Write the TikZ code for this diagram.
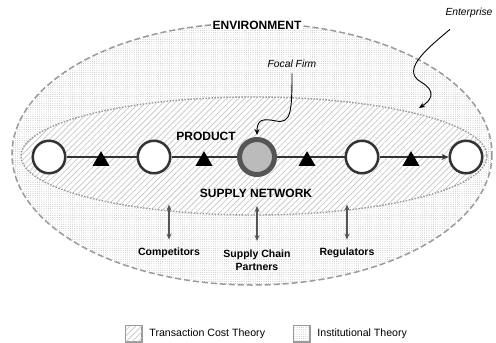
\documentclass[tikz,border=0pt]{standalone}
\usepackage{fontspec}
\setmainfont{Liberation Sans}
\usepackage{tikz}
\usetikzlibrary{arrows.meta, positioning, calc, patterns.meta, shapes.geometric}

\definecolor{ringgray}{HTML}{555555}
\definecolor{linegray}{HTML}{333333}
\definecolor{edgegray}{HTML}{9A9A9A}

\tikzset{
  stage/.style={circle, draw=linegray, line width=2.5pt, fill=white, minimum size=32.5pt, inner sep=0pt},
  focal/.style={circle, draw=ringgray, line width=5pt, fill=gray!53, minimum size=35pt, inner sep=0pt},
  tri/.style={regular polygon, regular polygon sides=3, fill=black, minimum size=19.6pt, inner sep=0pt},
  flow/.style={draw=linegray, line width=1.4pt},
  biarrow/.style={{Stealth[length=6pt,width=5pt]}-{Stealth[length=6pt,width=5pt]}, draw=ringgray, line width=1.2pt},
  pointer/.style={black, line width=0.9pt, -{Stealth[length=6pt,width=5pt]}},
  title/.style={font=\fontsize{12}{13}\selectfont\bfseries},
  actor/.style={font=\fontsize{10.5}{13}\selectfont\bfseries, align=center},
  note/.style={font=\fontsize{10.3}{12}\selectfont\itshape},
  keytext/.style={font=\fontsize{10.6}{12}\selectfont},
  dotsfill/.style={pattern={Dots[distance=2.2pt, radius=0.4pt]}, pattern color=gray!70},
  hatchfill/.style={pattern={Lines[angle=45, distance=4.2pt, line width=0.8pt]}, pattern color=gray!40},
}

\begin{document}
\begin{tikzpicture}[x=1pt, y=-1pt]
  \useasboundingbox (0,0) rectangle (496,343);

  % Environment
  \fill[white] (252,154) ellipse (240 and 131);
  \fill[dotsfill] (252,154) ellipse (240 and 131);
  \draw[edgegray, line width=1.5pt, dash pattern=on 6pt off 3pt] (252,154) ellipse (240 and 131);

  % Enterprise
  \fill[white] (254,156) ellipse (233 and 59);
  \fill[hatchfill] (254,156) ellipse (233 and 59);
  \draw[edgegray, line width=1.4pt, dash pattern=on 1.5pt off 1.5pt] (254,156) ellipse (233 and 59);

  \node[title, fill=white, inner sep=1pt] (env) at (257,25) {ENVIRONMENT};

  % Supply chain
  \node[stage] (s1) at (49,157) {};
  \node[stage] (s2) at (154,157) {};
  \node[focal] (ff) at (257,157) {};
  \node[stage] (s4) at (362,157) {};
  \node[stage] (s5) at (466,157) {};

  \draw[flow] (s1) -- (s2);
  \draw[flow] (s2) -- (ff);
  \draw[flow] (ff) -- (s4);
  \draw[flow, -{Stealth[length=7pt,width=6pt]}] (s4) -- (s5);

  \node[tri] (t1) at (101,161) {};
  \node[tri] (t2) at (204,161) {};
  \node[tri] (t3) at (307,161) {};
  \node[tri] (t4) at (411,161) {};

  \node[title] (prod) at (206,136) {PRODUCT};
  \node[title] (net) at (256,193) {SUPPLY NETWORK};

  % Notes
  \node[note] (fflabel) at (292,64) {Focal Firm};
  \node[note] (entlabel) at (469,13) {Enterprise};
  \coordinate (entpt) at (419,108);
  \draw[pointer] ([yshift=-2pt]fflabel.south) .. controls (292,112) and (291,124) .. (276,121)
    .. controls (262,118) and (257,120) .. ([yshift=2pt]ff.north);
  \draw[pointer] ([shift={(-19,8)}]entlabel.south) .. controls (428,48) and (400,70) .. (421,82)
    .. controls (438,92) and (430,101) .. (entpt);

  % Actors
  \node[actor] (comp) at (169,253) {Competitors};
  \node[actor, anchor=north] (scp) at (257,246) {Supply Chain\\Partners};
  \node[actor] (reg) at (347,253) {Regulators};
  \draw[biarrow] ([shift={(0,-5)}]comp.north) -- ++(0,-35);
  \draw[biarrow] ([shift={(0,-5)}]scp.north) -- ++(0,-35);
  \draw[biarrow] ([shift={(0,-5)}]reg.north) -- ++(0,-35);

  % Legend
  \node[draw=edgegray, line width=0.8pt, minimum size=16pt, inner sep=0pt, fill=white] (lb1) at (133.5,333.5) {};
  \fill[hatchfill] (lb1.south west) rectangle (lb1.north east);
  \draw[edgegray, line width=0.8pt] (lb1.south west) rectangle (lb1.north east);
  \node[keytext, right=4pt of lb1] (lt1) {Transaction Cost Theory};
  \node[draw=edgegray, line width=0.8pt, minimum size=16pt, inner sep=0pt, fill=white] (lb2) at (301.5,333.5) {};
  \fill[dotsfill] (lb2.south west) rectangle (lb2.north east);
  \draw[edgegray, line width=0.8pt] (lb2.south west) rectangle (lb2.north east);
  \node[keytext, right=4pt of lb2] (lt2) {Institutional Theory};
\end{tikzpicture}
\end{document}
